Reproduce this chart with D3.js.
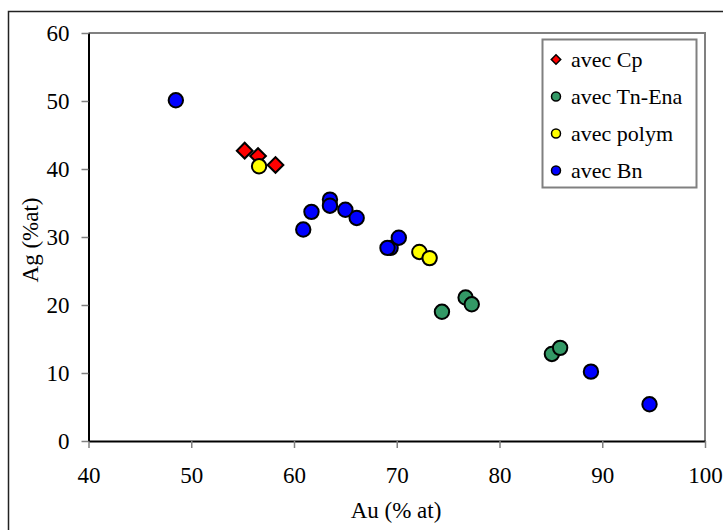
<!DOCTYPE html>
<html>
<head>
<meta charset="utf-8">
<script src="https://cdn.jsdelivr.net/npm/d3@7"></script>
<style>
body { margin: 0; background: #fff; }
svg text { font-family: "Liberation Serif", "Times New Roman", serif; fill: #000; }
</style>
</head>
<body>
<div id="vis"></div>
<script>
var width = 723;
var height = 530;

// series data: [Au, Ag]
var cpPoints = [[55.2, 42.7], [56.5, 41.9], [58.2, 40.6]];
var tnPoints = [[74.4, 19.0], [76.7, 21.1], [77.3, 20.1], [85.1, 12.8], [85.9, 13.7]];
var polymPoints = [[56.6, 40.4], [72.2, 27.8], [73.2, 26.9]];
var bnPoints = [[48.5, 50.1], [60.9, 31.1], [61.7, 33.7], [63.5, 35.5], [63.5, 34.6],
    [65.0, 34.0], [66.1, 32.8], [69.4, 28.4], [69.1, 28.4], [70.2, 29.9],
    [88.9, 10.2], [94.6, 5.4]];

var seriesNames = ['avec Cp', 'avec Tn-Ena', 'avec polym', 'avec Bn'];
var seriesColors = ['#ff0000', '#339966', '#ffff00', '#0000ff'];
var seriesShapes = ['diamond', 'circle', 'circle', 'circle'];
var xTicks = [40, 50, 60, 70, 80, 90, 100];
var yTicks = [0, 10, 20, 30, 40, 50, 60];

var series = [cpPoints, tnPoints, polymPoints, bnPoints];

var plot = { left: 88.5, right: 705, top: 33, bottom: 441 };

var svg = d3.select('#vis')
    .append('svg')
    .attr('width', width)
    .attr('height', height);

// outer chart border
svg.append('rect')
    .attr('x', 8.5).attr('y', 11.5)
    .attr('width', 760).attr('height', 560)
    .attr('fill', 'none')
    .attr('stroke', '#222')
    .attr('stroke-width', 1.5);

var x = d3.scaleLinear().domain([40, 100]).range([plot.left, plot.right]);
var y = d3.scaleLinear().domain([0, 60]).range([plot.bottom, plot.top]);

// plot area frame (grey top / right)
svg.append('path')
    .attr('d', 'M' + plot.left + ',' + plot.top + 'H' + plot.right + 'V' + plot.bottom)
    .attr('fill', 'none')
    .attr('stroke', '#808080')
    .attr('stroke-width', 2);

// axes
var xAxis = d3.axisBottom(x).tickValues(xTicks).tickSize(7).tickSizeOuter(0).tickPadding(19);
var yAxis = d3.axisLeft(y).tickValues(yTicks).tickSize(7).tickSizeOuter(0).tickPadding(12);

var gx = svg.append('g')
    .attr('transform', 'translate(0,' + plot.bottom + ')')
    .call(xAxis);
var gy = svg.append('g')
    .attr('transform', 'translate(' + plot.left + ',0)')
    .call(yAxis);

[gx, gy].forEach(function (g) {
    g.select('.domain').attr('stroke', '#000').attr('stroke-width', 2);
    g.selectAll('.tick line').attr('stroke', '#808080').attr('stroke-width', 1.5);
    g.selectAll('.tick text')
        .attr('font-size', 23)
        .attr('font-family', '"Liberation Serif", "Times New Roman", serif')
        .attr('fill', '#000');
});
gx.selectAll('.tick text').attr('dy', '0.71em');

// axis titles
svg.append('text')
    .attr('x', 396)
    .attr('y', 518)
    .attr('text-anchor', 'middle')
    .attr('font-size', 23)
    .text('Au (% at)');

svg.append('text')
    .attr('transform', 'translate(38,' + 240 + ') rotate(-90)')
    .attr('text-anchor', 'middle')
    .attr('font-size', 23)
    .text('Ag (%at)');

function drawMarker(sel, shape, r) {
    if (shape === 'diamond') {
        return sel.append('path')
            .attr('d', d3.symbol().type(d3.symbolSquare).size(r * r * 2.2)())
            .attr('transform', 'rotate(45)');
    }
    return sel.append('circle').attr('r', r);
}

// points
var gPts = svg.append('g');
series.forEach(function (pts, i) {
    pts.forEach(function (p) {
        var g = gPts.append('g')
            .attr('transform', 'translate(' + x(p[0]) + ',' + y(p[1]) + ')');
        drawMarker(g, seriesShapes[i], seriesShapes[i] === 'diamond' ? 7.5 : 7.2)
            .attr('fill', seriesColors[i])
            .attr('stroke', '#000')
            .attr('stroke-width', 2);
    });
});

// legend
var legend = svg.append('g');
legend.append('rect')
    .attr('x', 542.5).attr('y', 39.5)
    .attr('width', 154).attr('height', 148)
    .attr('fill', '#fff')
    .attr('stroke', '#808080')
    .attr('stroke-width', 2);

seriesNames.forEach(function (name, i) {
    var row = legend.append('g')
        .attr('transform', 'translate(556,' + (59.5 + i * 37) + ')');
    drawMarker(row, seriesShapes[i], 4.5)
        .attr('fill', seriesColors[i])
        .attr('stroke', '#000')
        .attr('stroke-width', 1.5);
    row.append('text')
        .attr('x', 15)
        .attr('y', 0)
        .attr('dy', '0.35em')
        .attr('font-size', 22)
        .text(name);
});
</script>
</body>
</html>
